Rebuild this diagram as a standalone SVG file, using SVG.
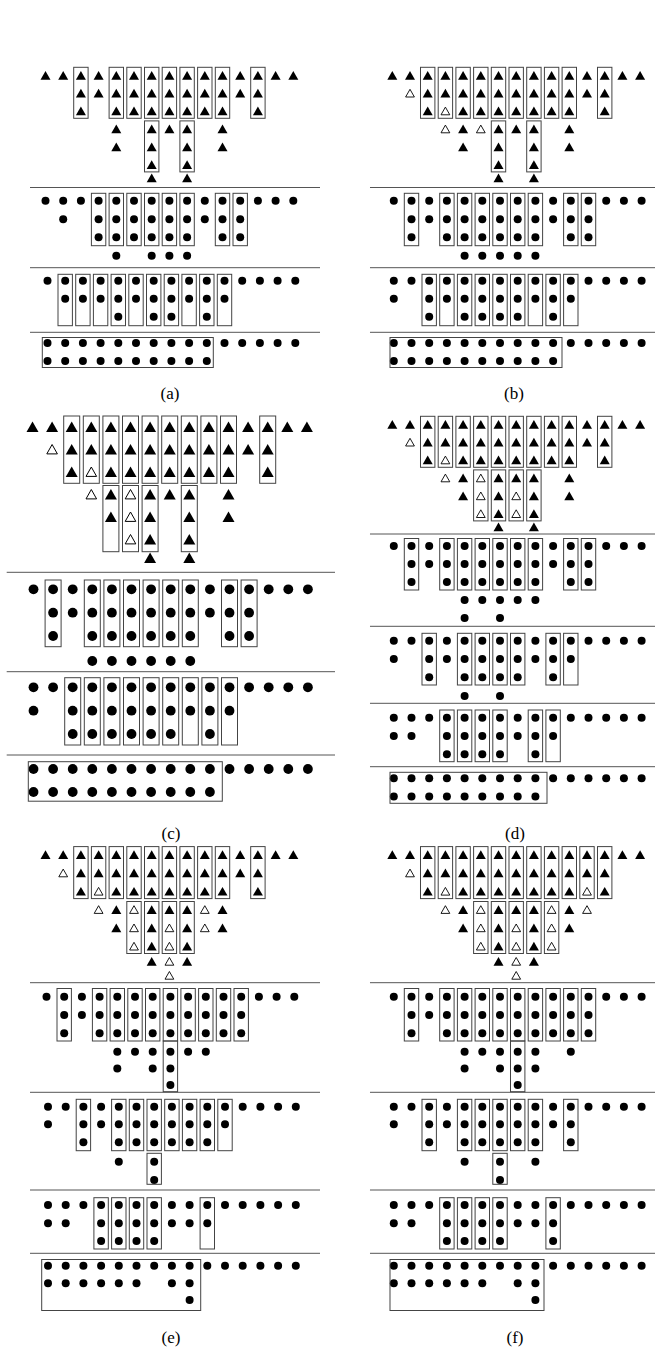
<svg xmlns="http://www.w3.org/2000/svg" width="669" height="1353" viewBox="0 0 669 1353">
<style>
.b{fill:none;stroke:#444;stroke-width:1}
.s{stroke:#555;stroke-width:1}
.cap{font-family:"Liberation Serif",serif;font-size:17px;fill:#000;text-anchor:middle}
</style>
<defs>
<polygon id="T" points="-5,4 5,4 0,-4.7" fill="#000"/>
<polygon id="O" points="-4.4,3.5 4.4,3.5 0,-4.2" fill="#fff" stroke="#000" stroke-width="0.9"/>
<circle id="D" r="4" fill="#000"/>
<polygon id="T2" points="-6,5 6,5 0,-5.6" fill="#000"/>
<polygon id="O2" points="-5.3,4.4 5.3,4.4 0,-5" fill="#fff" stroke="#000" stroke-width="1"/>
<circle id="D2" r="4.9" fill="#000"/>
<g id="R15T"><use href="#T" x="0"/><use href="#T" x="17.7"/><use href="#T" x="35.4"/><use href="#T" x="53.1"/><use href="#T" x="70.8"/><use href="#T" x="88.5"/><use href="#T" x="106.2"/><use href="#T" x="123.9"/><use href="#T" x="141.6"/><use href="#T" x="159.3"/><use href="#T" x="177"/><use href="#T" x="194.7"/><use href="#T" x="212.4"/><use href="#T" x="230.1"/><use href="#T" x="247.8"/></g>
<g id="R15D"><use href="#D" x="0"/><use href="#D" x="17.7"/><use href="#D" x="35.4"/><use href="#D" x="53.1"/><use href="#D" x="70.8"/><use href="#D" x="88.5"/><use href="#D" x="106.2"/><use href="#D" x="123.9"/><use href="#D" x="141.6"/><use href="#D" x="159.3"/><use href="#D" x="177"/><use href="#D" x="194.7"/><use href="#D" x="212.4"/><use href="#D" x="230.1"/><use href="#D" x="247.8"/></g>
<g id="R15T2"><use href="#T2" x="0"/><use href="#T2" x="19.6"/><use href="#T2" x="39.2"/><use href="#T2" x="58.8"/><use href="#T2" x="78.4"/><use href="#T2" x="98"/><use href="#T2" x="117.6"/><use href="#T2" x="137.2"/><use href="#T2" x="156.8"/><use href="#T2" x="176.4"/><use href="#T2" x="196"/><use href="#T2" x="215.6"/><use href="#T2" x="235.2"/><use href="#T2" x="254.8"/><use href="#T2" x="274.4"/></g>
<g id="R15D2"><use href="#D2" x="0"/><use href="#D2" x="19.6"/><use href="#D2" x="39.2"/><use href="#D2" x="58.8"/><use href="#D2" x="78.4"/><use href="#D2" x="98"/><use href="#D2" x="117.6"/><use href="#D2" x="137.2"/><use href="#D2" x="156.8"/><use href="#D2" x="176.4"/><use href="#D2" x="196"/><use href="#D2" x="215.6"/><use href="#D2" x="235.2"/><use href="#D2" x="254.8"/><use href="#D2" x="274.4"/></g>
</defs>
<rect width="669" height="1353" fill="#fff"/>

<!-- Panel (a) -->
<g id="panel-a" transform="translate(45.5,0)">
<use href="#R15T" y="75.7"/>
<g transform="translate(0,93.5)"><use href="#T" x="35.4"/><use href="#T" x="53.1"/><use href="#T" x="70.8"/><use href="#T" x="88.5"/><use href="#T" x="106.2"/><use href="#T" x="123.9"/><use href="#T" x="141.6"/><use href="#T" x="159.3"/><use href="#T" x="177"/><use href="#T" x="194.7"/><use href="#T" x="212.4"/></g>
<g transform="translate(0,111.3)"><use href="#T" x="35.4"/><use href="#T" x="70.8"/><use href="#T" x="88.5"/><use href="#T" x="106.2"/><use href="#T" x="123.9"/><use href="#T" x="141.6"/><use href="#T" x="159.3"/><use href="#T" x="177"/><use href="#T" x="212.4"/></g>
<g transform="translate(0,129.3)"><use href="#T" x="70.8"/><use href="#T" x="106.2"/><use href="#T" x="123.9"/><use href="#T" x="141.6"/><use href="#T" x="177"/></g>
<g transform="translate(0,147.2)"><use href="#T" x="70.8"/><use href="#T" x="106.2"/><use href="#T" x="141.6"/><use href="#T" x="177"/></g>
<g transform="translate(0,165)"><use href="#T" x="106.2"/><use href="#T" x="141.6"/></g>
<g transform="translate(0,178.3)"><use href="#T" x="106.2"/><use href="#T" x="141.6"/></g>
<g transform="translate(0,67.3)"><rect class="b" x="28.2" width="14.4" height="51"/><rect class="b" x="63.6" width="14.4" height="51"/><rect class="b" x="81.3" width="14.4" height="51"/><rect class="b" x="99" width="14.4" height="51"/><rect class="b" x="116.7" width="14.4" height="51"/><rect class="b" x="134.4" width="14.4" height="51"/><rect class="b" x="152.1" width="14.4" height="51"/><rect class="b" x="169.8" width="14.4" height="51"/><rect class="b" x="205.2" width="14.4" height="51"/></g>
<g transform="translate(0,120.9)"><rect class="b" x="99" width="14.4" height="51"/><rect class="b" x="134.4" width="14.4" height="51"/></g>
<line class="s" x1="-15.5" y1="187.5" x2="274.5" y2="187.5"/>
<line class="s" x1="-15.5" y1="267.7" x2="274.5" y2="267.7"/>
<line class="s" x1="-15.5" y1="332.3" x2="274.5" y2="332.3"/>
<use href="#R15D" y="200.7"/>
<g transform="translate(0,219.3)"><use href="#D" x="17.7"/><use href="#D" x="53.1"/><use href="#D" x="70.8"/><use href="#D" x="88.5"/><use href="#D" x="106.2"/><use href="#D" x="123.9"/><use href="#D" x="141.6"/><use href="#D" x="159.3"/><use href="#D" x="177"/><use href="#D" x="194.7"/></g>
<g transform="translate(0,237.3)"><use href="#D" x="53.1"/><use href="#D" x="70.8"/><use href="#D" x="88.5"/><use href="#D" x="106.2"/><use href="#D" x="123.9"/><use href="#D" x="141.6"/><use href="#D" x="177"/><use href="#D" x="194.7"/></g>
<g transform="translate(0,255.7)"><use href="#D" x="70.8"/><use href="#D" x="106.2"/><use href="#D" x="123.9"/><use href="#D" x="141.6"/></g>
<g transform="translate(0,193.3)"><rect class="b" x="45.9" width="14.4" height="52.4"/><rect class="b" x="63.6" width="14.4" height="52.4"/><rect class="b" x="81.3" width="14.4" height="52.4"/><rect class="b" x="99" width="14.4" height="52.4"/><rect class="b" x="116.7" width="14.4" height="52.4"/><rect class="b" x="134.4" width="14.4" height="52.4"/><rect class="b" x="169.8" width="14.4" height="52.4"/><rect class="b" x="187.5" width="14.4" height="52.4"/></g>
<g transform="translate(2,0)">
<use href="#R15D" y="280.7"/>
<g transform="translate(0,298.7)"><use href="#D" x="17.7"/><use href="#D" x="35.4"/><use href="#D" x="53.1"/><use href="#D" x="70.8"/><use href="#D" x="88.5"/><use href="#D" x="106.2"/><use href="#D" x="123.9"/><use href="#D" x="141.6"/><use href="#D" x="159.3"/><use href="#D" x="177"/></g>
<g transform="translate(0,316.7)"><use href="#D" x="70.8"/><use href="#D" x="106.2"/><use href="#D" x="123.9"/><use href="#D" x="159.3"/></g>
<g transform="translate(0,274.3)"><rect class="b" x="10.5" width="14.4" height="51.4"/><rect class="b" x="28.2" width="14.4" height="51.4"/><rect class="b" x="45.9" width="14.4" height="51.4"/><rect class="b" x="63.6" width="14.4" height="51.4"/><rect class="b" x="81.3" width="14.4" height="51.4"/><rect class="b" x="99" width="14.4" height="51.4"/><rect class="b" x="116.7" width="14.4" height="51.4"/><rect class="b" x="134.4" width="14.4" height="51.4"/><rect class="b" x="152.1" width="14.4" height="51.4"/><rect class="b" x="169.8" width="14.4" height="51.4"/></g>
<use href="#R15D" y="343"/>
<g transform="translate(0,361)"><use href="#D" x="0"/><use href="#D" x="17.7"/><use href="#D" x="35.4"/><use href="#D" x="53.1"/><use href="#D" x="70.8"/><use href="#D" x="88.5"/><use href="#D" x="106.2"/><use href="#D" x="123.9"/><use href="#D" x="141.6"/><use href="#D" x="159.3"/></g>
<rect class="b" x="-5.2" y="337.5" width="171" height="30"/>
</g>
</g>
<text class="cap" x="170" y="399">(a)</text>

<!-- Panel (b) -->
<g id="panel-b" transform="translate(392.3,0)">
<use href="#R15T" y="75.7"/>
<g transform="translate(0,93.5)"><use href="#O" x="17.7"/><use href="#T" x="35.4"/><use href="#T" x="53.1"/><use href="#T" x="70.8"/><use href="#T" x="88.5"/><use href="#T" x="106.2"/><use href="#T" x="123.9"/><use href="#T" x="141.6"/><use href="#T" x="159.3"/><use href="#T" x="177"/><use href="#T" x="194.7"/><use href="#T" x="212.4"/></g>
<g transform="translate(0,111.3)"><use href="#T" x="35.4"/><use href="#O" x="53.1"/><use href="#T" x="70.8"/><use href="#T" x="88.5"/><use href="#T" x="106.2"/><use href="#T" x="123.9"/><use href="#T" x="141.6"/><use href="#T" x="159.3"/><use href="#T" x="177"/><use href="#T" x="212.4"/></g>
<g transform="translate(0,129.3)"><use href="#O" x="53.1"/><use href="#T" x="70.8"/><use href="#O" x="88.5"/><use href="#T" x="106.2"/><use href="#T" x="123.9"/><use href="#T" x="141.6"/><use href="#T" x="177"/></g>
<g transform="translate(0,147.2)"><use href="#T" x="70.8"/><use href="#T" x="106.2"/><use href="#T" x="141.6"/><use href="#T" x="177"/></g>
<g transform="translate(0,165)"><use href="#T" x="106.2"/><use href="#T" x="141.6"/></g>
<g transform="translate(0,178.3)"><use href="#T" x="106.2"/><use href="#T" x="141.6"/></g>
<g transform="translate(0,67.3)"><rect class="b" x="28.2" width="14.4" height="51"/><rect class="b" x="45.9" width="14.4" height="51"/><rect class="b" x="63.6" width="14.4" height="51"/><rect class="b" x="81.3" width="14.4" height="51"/><rect class="b" x="99" width="14.4" height="51"/><rect class="b" x="116.7" width="14.4" height="51"/><rect class="b" x="134.4" width="14.4" height="51"/><rect class="b" x="152.1" width="14.4" height="51"/><rect class="b" x="169.8" width="14.4" height="51"/><rect class="b" x="205.2" width="14.4" height="51"/></g>
<g transform="translate(0,120.9)"><rect class="b" x="99" width="14.4" height="51"/><rect class="b" x="134.4" width="14.4" height="51"/></g>
<line class="s" x1="-22.3" y1="187.5" x2="262.7" y2="187.5"/>
<line class="s" x1="-22.3" y1="267.7" x2="262.7" y2="267.7"/>
<line class="s" x1="-22.3" y1="332.3" x2="262.7" y2="332.3"/>
<g transform="translate(1.5,0)">
<use href="#R15D" y="200.7"/>
<g transform="translate(0,219.3)"><use href="#D" x="17.7"/><use href="#D" x="35.4"/><use href="#D" x="53.1"/><use href="#D" x="70.8"/><use href="#D" x="88.5"/><use href="#D" x="106.2"/><use href="#D" x="123.9"/><use href="#D" x="141.6"/><use href="#D" x="159.3"/><use href="#D" x="177"/><use href="#D" x="194.7"/></g>
<g transform="translate(0,237.3)"><use href="#D" x="17.7"/><use href="#D" x="53.1"/><use href="#D" x="70.8"/><use href="#D" x="88.5"/><use href="#D" x="106.2"/><use href="#D" x="123.9"/><use href="#D" x="141.6"/><use href="#D" x="177"/><use href="#D" x="194.7"/></g>
<g transform="translate(0,255.7)"><use href="#D" x="70.8"/><use href="#D" x="88.5"/><use href="#D" x="106.2"/><use href="#D" x="123.9"/><use href="#D" x="141.6"/></g>
<g transform="translate(0,193.3)"><rect class="b" x="10.5" width="14.4" height="52.4"/><rect class="b" x="45.9" width="14.4" height="52.4"/><rect class="b" x="63.6" width="14.4" height="52.4"/><rect class="b" x="81.3" width="14.4" height="52.4"/><rect class="b" x="99" width="14.4" height="52.4"/><rect class="b" x="116.7" width="14.4" height="52.4"/><rect class="b" x="134.4" width="14.4" height="52.4"/><rect class="b" x="169.8" width="14.4" height="52.4"/><rect class="b" x="187.5" width="14.4" height="52.4"/></g>
<use href="#R15D" y="280.7"/>
<g transform="translate(0,298.7)"><use href="#D" x="0"/><use href="#D" x="35.4"/><use href="#D" x="53.1"/><use href="#D" x="70.8"/><use href="#D" x="88.5"/><use href="#D" x="106.2"/><use href="#D" x="123.9"/><use href="#D" x="141.6"/><use href="#D" x="159.3"/><use href="#D" x="177"/></g>
<g transform="translate(0,316.7)"><use href="#D" x="35.4"/><use href="#D" x="70.8"/><use href="#D" x="88.5"/><use href="#D" x="106.2"/><use href="#D" x="123.9"/><use href="#D" x="159.3"/></g>
<g transform="translate(0,274.3)"><rect class="b" x="28.2" width="14.4" height="51.4"/><rect class="b" x="45.9" width="14.4" height="51.4"/><rect class="b" x="63.6" width="14.4" height="51.4"/><rect class="b" x="81.3" width="14.4" height="51.4"/><rect class="b" x="99" width="14.4" height="51.4"/><rect class="b" x="116.7" width="14.4" height="51.4"/><rect class="b" x="134.4" width="14.4" height="51.4"/><rect class="b" x="152.1" width="14.4" height="51.4"/><rect class="b" x="169.8" width="14.4" height="51.4"/></g>
<use href="#R15D" y="343"/>
<g transform="translate(0,361)"><use href="#D" x="0"/><use href="#D" x="17.7"/><use href="#D" x="35.4"/><use href="#D" x="53.1"/><use href="#D" x="70.8"/><use href="#D" x="88.5"/><use href="#D" x="106.2"/><use href="#D" x="123.9"/><use href="#D" x="141.6"/><use href="#D" x="159.3"/></g>
<rect class="b" x="-3.8" y="337.5" width="172" height="30"/>
</g>
</g>
<text class="cap" x="514" y="399">(b)</text>

<!-- Panel (c) -->
<g id="panel-c" transform="translate(32.5,0)">
<use href="#R15T2" y="427"/>
<g transform="translate(0,449.5)"><use href="#O2" x="19.6"/><use href="#T2" x="39.2"/><use href="#T2" x="58.8"/><use href="#T2" x="78.4"/><use href="#T2" x="98"/><use href="#T2" x="117.6"/><use href="#T2" x="137.2"/><use href="#T2" x="156.8"/><use href="#T2" x="176.4"/><use href="#T2" x="196"/><use href="#T2" x="215.6"/><use href="#T2" x="235.2"/></g>
<g transform="translate(0,472)"><use href="#T2" x="39.2"/><use href="#O2" x="58.8"/><use href="#T2" x="78.4"/><use href="#T2" x="98"/><use href="#T2" x="117.6"/><use href="#T2" x="137.2"/><use href="#T2" x="156.8"/><use href="#T2" x="176.4"/><use href="#T2" x="196"/><use href="#T2" x="235.2"/></g>
<g transform="translate(0,494.5)"><use href="#O2" x="58.8"/><use href="#T2" x="78.4"/><use href="#O2" x="98"/><use href="#T2" x="117.6"/><use href="#T2" x="137.2"/><use href="#T2" x="156.8"/><use href="#T2" x="196"/></g>
<g transform="translate(0,517)"><use href="#T2" x="78.4"/><use href="#O2" x="98"/><use href="#T2" x="117.6"/><use href="#T2" x="156.8"/><use href="#T2" x="196"/></g>
<g transform="translate(0,539.5)"><use href="#O2" x="98"/><use href="#T2" x="117.6"/><use href="#T2" x="156.8"/></g>
<g transform="translate(0,558)"><use href="#T2" x="117.6"/><use href="#T2" x="156.8"/></g>
<g transform="translate(0,416)"><rect class="b" x="31.2" width="16" height="67.3"/><rect class="b" x="50.8" width="16" height="67.3"/><rect class="b" x="70.4" width="16" height="67.3"/><rect class="b" x="90" width="16" height="67.3"/><rect class="b" x="109.6" width="16" height="67.3"/><rect class="b" x="129.2" width="16" height="67.3"/><rect class="b" x="148.8" width="16" height="67.3"/><rect class="b" x="168.4" width="16" height="67.3"/><rect class="b" x="188" width="16" height="67.3"/><rect class="b" x="227.2" width="16" height="67.3"/></g>
<g transform="translate(0,485.5)"><rect class="b" x="70.4" width="16" height="66.2"/><rect class="b" x="90" width="16" height="66.2"/><rect class="b" x="109.6" width="16" height="66.2"/><rect class="b" x="148.8" width="16" height="66.2"/></g>
<line class="s" x1="-25.8" y1="572.3" x2="302.5" y2="572.3"/>
<line class="s" x1="-25.8" y1="671.7" x2="302.5" y2="671.7"/>
<line class="s" x1="-25.8" y1="755" x2="302.5" y2="755"/>
<g transform="translate(1,0)">
<use href="#R15D2" y="589.3"/>
<g transform="translate(0,612.7)"><use href="#D2" x="19.6"/><use href="#D2" x="39.2"/><use href="#D2" x="58.8"/><use href="#D2" x="78.4"/><use href="#D2" x="98"/><use href="#D2" x="117.6"/><use href="#D2" x="137.2"/><use href="#D2" x="156.8"/><use href="#D2" x="176.4"/><use href="#D2" x="196"/><use href="#D2" x="215.6"/></g>
<g transform="translate(0,636)"><use href="#D2" x="19.6"/><use href="#D2" x="58.8"/><use href="#D2" x="78.4"/><use href="#D2" x="98"/><use href="#D2" x="117.6"/><use href="#D2" x="137.2"/><use href="#D2" x="156.8"/><use href="#D2" x="196"/><use href="#D2" x="215.6"/></g>
<g transform="translate(0,661)"><use href="#D2" x="58.8"/><use href="#D2" x="78.4"/><use href="#D2" x="98"/><use href="#D2" x="117.6"/><use href="#D2" x="137.2"/><use href="#D2" x="156.8"/></g>
<g transform="translate(0,580)"><rect class="b" x="11.6" width="16" height="66.7"/><rect class="b" x="50.8" width="16" height="66.7"/><rect class="b" x="70.4" width="16" height="66.7"/><rect class="b" x="90" width="16" height="66.7"/><rect class="b" x="109.6" width="16" height="66.7"/><rect class="b" x="129.2" width="16" height="66.7"/><rect class="b" x="148.8" width="16" height="66.7"/><rect class="b" x="188" width="16" height="66.7"/><rect class="b" x="207.6" width="16" height="66.7"/></g>
<use href="#R15D2" y="687.3"/>
<g transform="translate(0,710.7)"><use href="#D2" x="0"/><use href="#D2" x="39.2"/><use href="#D2" x="58.8"/><use href="#D2" x="78.4"/><use href="#D2" x="98"/><use href="#D2" x="117.6"/><use href="#D2" x="137.2"/><use href="#D2" x="156.8"/><use href="#D2" x="176.4"/><use href="#D2" x="196"/></g>
<g transform="translate(0,734)"><use href="#D2" x="39.2"/><use href="#D2" x="58.8"/><use href="#D2" x="78.4"/><use href="#D2" x="98"/><use href="#D2" x="117.6"/><use href="#D2" x="137.2"/><use href="#D2" x="176.4"/></g>
<g transform="translate(0,677.7)"><rect class="b" x="31.2" width="16" height="67.3"/><rect class="b" x="50.8" width="16" height="67.3"/><rect class="b" x="70.4" width="16" height="67.3"/><rect class="b" x="90" width="16" height="67.3"/><rect class="b" x="109.6" width="16" height="67.3"/><rect class="b" x="129.2" width="16" height="67.3"/><rect class="b" x="148.8" width="16" height="67.3"/><rect class="b" x="168.4" width="16" height="67.3"/><rect class="b" x="188" width="16" height="67.3"/></g>
<use href="#R15D2" y="769"/>
<g transform="translate(0,792)"><use href="#D2" x="0"/><use href="#D2" x="19.6"/><use href="#D2" x="39.2"/><use href="#D2" x="58.8"/><use href="#D2" x="78.4"/><use href="#D2" x="98"/><use href="#D2" x="117.6"/><use href="#D2" x="137.2"/><use href="#D2" x="156.8"/><use href="#D2" x="176.4"/></g>
<rect class="b" x="-5.2" y="761.7" width="194" height="39.5"/>
</g>
</g>
<text class="cap" x="171" y="839">(c)</text>

<!-- Panel (d) -->
<g id="panel-d" transform="translate(392.3,0)">
<use href="#R15T" y="424.7"/>
<g transform="translate(0,442.5)"><use href="#O" x="17.7"/><use href="#T" x="35.4"/><use href="#T" x="53.1"/><use href="#T" x="70.8"/><use href="#T" x="88.5"/><use href="#T" x="106.2"/><use href="#T" x="123.9"/><use href="#T" x="141.6"/><use href="#T" x="159.3"/><use href="#T" x="177"/><use href="#T" x="194.7"/><use href="#T" x="212.4"/></g>
<g transform="translate(0,460.3)"><use href="#T" x="35.4"/><use href="#O" x="53.1"/><use href="#T" x="70.8"/><use href="#T" x="88.5"/><use href="#T" x="106.2"/><use href="#T" x="123.9"/><use href="#T" x="141.6"/><use href="#T" x="159.3"/><use href="#T" x="177"/><use href="#T" x="212.4"/></g>
<g transform="translate(0,478.3)"><use href="#O" x="53.1"/><use href="#T" x="70.8"/><use href="#O" x="88.5"/><use href="#T" x="106.2"/><use href="#T" x="123.9"/><use href="#T" x="141.6"/><use href="#T" x="177"/></g>
<g transform="translate(0,496.2)"><use href="#T" x="70.8"/><use href="#O" x="88.5"/><use href="#T" x="106.2"/><use href="#O" x="123.9"/><use href="#T" x="141.6"/><use href="#T" x="177"/></g>
<g transform="translate(0,514)"><use href="#O" x="88.5"/><use href="#T" x="106.2"/><use href="#O" x="123.9"/><use href="#T" x="141.6"/></g>
<g transform="translate(0,527.3)"><use href="#T" x="106.2"/><use href="#T" x="141.6"/></g>
<g transform="translate(0,416.3)"><rect class="b" x="28.2" width="14.4" height="51"/><rect class="b" x="45.9" width="14.4" height="51"/><rect class="b" x="63.6" width="14.4" height="51"/><rect class="b" x="81.3" width="14.4" height="51"/><rect class="b" x="99" width="14.4" height="51"/><rect class="b" x="116.7" width="14.4" height="51"/><rect class="b" x="134.4" width="14.4" height="51"/><rect class="b" x="152.1" width="14.4" height="51"/><rect class="b" x="169.8" width="14.4" height="51"/><rect class="b" x="205.2" width="14.4" height="51"/></g>
<g transform="translate(0,469.9)"><rect class="b" x="81.3" width="14.4" height="51"/><rect class="b" x="99" width="14.4" height="51"/><rect class="b" x="116.7" width="14.4" height="51"/><rect class="b" x="134.4" width="14.4" height="51"/></g>
<line class="s" x1="-22.3" y1="534" x2="262.7" y2="534"/>
<line class="s" x1="-22.3" y1="626.3" x2="262.7" y2="626.3"/>
<line class="s" x1="-22.3" y1="703.3" x2="262.7" y2="703.3"/>
<line class="s" x1="-22.3" y1="766.7" x2="262.7" y2="766.7"/>
<g transform="translate(1.5,0)">
<use href="#R15D" y="546"/>
<g transform="translate(0,564)"><use href="#D" x="17.7"/><use href="#D" x="35.4"/><use href="#D" x="53.1"/><use href="#D" x="70.8"/><use href="#D" x="88.5"/><use href="#D" x="106.2"/><use href="#D" x="123.9"/><use href="#D" x="141.6"/><use href="#D" x="159.3"/><use href="#D" x="177"/><use href="#D" x="194.7"/></g>
<g transform="translate(0,582)"><use href="#D" x="17.7"/><use href="#D" x="53.1"/><use href="#D" x="70.8"/><use href="#D" x="88.5"/><use href="#D" x="106.2"/><use href="#D" x="123.9"/><use href="#D" x="141.6"/><use href="#D" x="177"/><use href="#D" x="194.7"/></g>
<g transform="translate(0,600)"><use href="#D" x="70.8"/><use href="#D" x="88.5"/><use href="#D" x="106.2"/><use href="#D" x="123.9"/><use href="#D" x="141.6"/></g>
<g transform="translate(0,618)"><use href="#D" x="70.8"/><use href="#D" x="106.2"/></g>
<g transform="translate(0,538.5)"><rect class="b" x="10.5" width="14.4" height="51.5"/><rect class="b" x="45.9" width="14.4" height="51.5"/><rect class="b" x="63.6" width="14.4" height="51.5"/><rect class="b" x="81.3" width="14.4" height="51.5"/><rect class="b" x="99" width="14.4" height="51.5"/><rect class="b" x="116.7" width="14.4" height="51.5"/><rect class="b" x="134.4" width="14.4" height="51.5"/><rect class="b" x="169.8" width="14.4" height="51.5"/><rect class="b" x="187.5" width="14.4" height="51.5"/></g>
<use href="#R15D" y="640.7"/>
<g transform="translate(0,659)"><use href="#D" x="0"/><use href="#D" x="35.4"/><use href="#D" x="53.1"/><use href="#D" x="70.8"/><use href="#D" x="88.5"/><use href="#D" x="106.2"/><use href="#D" x="123.9"/><use href="#D" x="141.6"/><use href="#D" x="159.3"/><use href="#D" x="177"/></g>
<g transform="translate(0,677.3)"><use href="#D" x="35.4"/><use href="#D" x="70.8"/><use href="#D" x="88.5"/><use href="#D" x="106.2"/><use href="#D" x="123.9"/><use href="#D" x="159.3"/></g>
<g transform="translate(0,696)"><use href="#D" x="70.8"/><use href="#D" x="106.2"/></g>
<g transform="translate(0,633.3)"><rect class="b" x="28.2" width="14.4" height="51.7"/><rect class="b" x="63.6" width="14.4" height="51.7"/><rect class="b" x="81.3" width="14.4" height="51.7"/><rect class="b" x="99" width="14.4" height="51.7"/><rect class="b" x="116.7" width="14.4" height="51.7"/><rect class="b" x="152.1" width="14.4" height="51.7"/><rect class="b" x="169.8" width="14.4" height="51.7"/></g>
<use href="#R15D" y="717.7"/>
<g transform="translate(0,736)"><use href="#D" x="0"/><use href="#D" x="17.7"/><use href="#D" x="53.1"/><use href="#D" x="70.8"/><use href="#D" x="88.5"/><use href="#D" x="106.2"/><use href="#D" x="123.9"/><use href="#D" x="141.6"/><use href="#D" x="159.3"/></g>
<g transform="translate(0,754.3)"><use href="#D" x="53.1"/><use href="#D" x="70.8"/><use href="#D" x="88.5"/><use href="#D" x="106.2"/><use href="#D" x="141.6"/></g>
<g transform="translate(0,710)"><rect class="b" x="45.9" width="14.4" height="51.7"/><rect class="b" x="63.6" width="14.4" height="51.7"/><rect class="b" x="81.3" width="14.4" height="51.7"/><rect class="b" x="99" width="14.4" height="51.7"/><rect class="b" x="134.4" width="14.4" height="51.7"/><rect class="b" x="152.1" width="14.4" height="51.7"/></g>
<use href="#R15D" y="778.3"/>
<g transform="translate(0,796.5)"><use href="#D" x="0"/><use href="#D" x="17.7"/><use href="#D" x="35.4"/><use href="#D" x="53.1"/><use href="#D" x="70.8"/><use href="#D" x="88.5"/><use href="#D" x="106.2"/><use href="#D" x="123.9"/><use href="#D" x="141.6"/></g>
<rect class="b" x="-3.8" y="772.3" width="157" height="31"/>
</g>
</g>
<text class="cap" x="515" y="839">(d)</text>

<!-- Panel (e) -->
<g id="panel-e" transform="translate(45.5,0)">
<use href="#R15T" y="855"/>
<g transform="translate(0,873.3)"><use href="#O" x="17.7"/><use href="#T" x="35.4"/><use href="#T" x="53.1"/><use href="#T" x="70.8"/><use href="#T" x="88.5"/><use href="#T" x="106.2"/><use href="#T" x="123.9"/><use href="#T" x="141.6"/><use href="#T" x="159.3"/><use href="#T" x="177"/><use href="#T" x="194.7"/><use href="#T" x="212.4"/></g>
<g transform="translate(0,891.6)"><use href="#T" x="35.4"/><use href="#O" x="53.1"/><use href="#T" x="70.8"/><use href="#T" x="88.5"/><use href="#T" x="106.2"/><use href="#T" x="123.9"/><use href="#T" x="141.6"/><use href="#T" x="159.3"/><use href="#T" x="177"/><use href="#T" x="212.4"/></g>
<g transform="translate(0,909.9)"><use href="#O" x="53.1"/><use href="#T" x="70.8"/><use href="#O" x="88.5"/><use href="#T" x="106.2"/><use href="#T" x="123.9"/><use href="#T" x="141.6"/><use href="#O" x="159.3"/><use href="#T" x="177"/></g>
<g transform="translate(0,928.2)"><use href="#T" x="70.8"/><use href="#O" x="88.5"/><use href="#T" x="106.2"/><use href="#O" x="123.9"/><use href="#T" x="141.6"/><use href="#O" x="159.3"/><use href="#T" x="177"/></g>
<g transform="translate(0,946.5)"><use href="#O" x="88.5"/><use href="#T" x="106.2"/><use href="#O" x="123.9"/><use href="#T" x="141.6"/></g>
<g transform="translate(0,961.7)"><use href="#T" x="106.2"/><use href="#O" x="123.9"/><use href="#T" x="141.6"/></g>
<g transform="translate(0,975.7)"><use href="#O" x="123.9"/></g>
<g transform="translate(0,846.6)"><rect class="b" x="28.2" width="14.4" height="52"/><rect class="b" x="45.9" width="14.4" height="52"/><rect class="b" x="63.6" width="14.4" height="52"/><rect class="b" x="81.3" width="14.4" height="52"/><rect class="b" x="99" width="14.4" height="52"/><rect class="b" x="116.7" width="14.4" height="52"/><rect class="b" x="134.4" width="14.4" height="52"/><rect class="b" x="152.1" width="14.4" height="52"/><rect class="b" x="169.8" width="14.4" height="52"/><rect class="b" x="205.2" width="14.4" height="52"/></g>
<g transform="translate(0,901.5)"><rect class="b" x="81.3" width="14.4" height="52"/><rect class="b" x="99" width="14.4" height="52"/><rect class="b" x="116.7" width="14.4" height="52"/><rect class="b" x="134.4" width="14.4" height="52"/></g>
<line class="s" x1="-15.5" y1="982.7" x2="274.5" y2="982.7"/>
<line class="s" x1="-15.5" y1="1092.3" x2="274.5" y2="1092.3"/>
<line class="s" x1="-15.5" y1="1190" x2="274.5" y2="1190"/>
<line class="s" x1="-15.5" y1="1253.3" x2="274.5" y2="1253.3"/>
<g transform="translate(1,0)">
<use href="#R15D" y="996.7"/>
<g transform="translate(0,1015)"><use href="#D" x="17.7"/><use href="#D" x="35.4"/><use href="#D" x="53.1"/><use href="#D" x="70.8"/><use href="#D" x="88.5"/><use href="#D" x="106.2"/><use href="#D" x="123.9"/><use href="#D" x="141.6"/><use href="#D" x="159.3"/><use href="#D" x="177"/><use href="#D" x="194.7"/></g>
<g transform="translate(0,1033.3)"><use href="#D" x="17.7"/><use href="#D" x="53.1"/><use href="#D" x="70.8"/><use href="#D" x="88.5"/><use href="#D" x="106.2"/><use href="#D" x="123.9"/><use href="#D" x="141.6"/><use href="#D" x="159.3"/><use href="#D" x="177"/><use href="#D" x="194.7"/></g>
<g transform="translate(0,1051.7)"><use href="#D" x="70.8"/><use href="#D" x="88.5"/><use href="#D" x="106.2"/><use href="#D" x="123.9"/><use href="#D" x="141.6"/><use href="#D" x="159.3"/></g>
<g transform="translate(0,1068.5)"><use href="#D" x="70.8"/><use href="#D" x="106.2"/><use href="#D" x="123.9"/></g>
<g transform="translate(0,1085)"><use href="#D" x="123.9"/></g>
<g transform="translate(0,988.5)"><rect class="b" x="10.5" width="14.4" height="52.5"/><rect class="b" x="45.9" width="14.4" height="52.5"/><rect class="b" x="63.6" width="14.4" height="52.5"/><rect class="b" x="81.3" width="14.4" height="52.5"/><rect class="b" x="99" width="14.4" height="52.5"/><rect class="b" x="116.7" width="14.4" height="52.5"/><rect class="b" x="134.4" width="14.4" height="52.5"/><rect class="b" x="152.1" width="14.4" height="52.5"/><rect class="b" x="169.8" width="14.4" height="52.5"/><rect class="b" x="187.5" width="14.4" height="52.5"/></g>
<rect class="b" x="116.7" y="1041" width="14.4" height="50.7"/>
</g>
<g transform="translate(2.5,0)">
<use href="#R15D" y="1106.7"/>
<g transform="translate(0,1124.3)"><use href="#D" x="0"/><use href="#D" x="35.4"/><use href="#D" x="53.1"/><use href="#D" x="70.8"/><use href="#D" x="88.5"/><use href="#D" x="106.2"/><use href="#D" x="123.9"/><use href="#D" x="141.6"/><use href="#D" x="159.3"/><use href="#D" x="177"/></g>
<g transform="translate(0,1142.3)"><use href="#D" x="35.4"/><use href="#D" x="70.8"/><use href="#D" x="88.5"/><use href="#D" x="106.2"/><use href="#D" x="123.9"/><use href="#D" x="141.6"/><use href="#D" x="159.3"/></g>
<g transform="translate(0,1161.7)"><use href="#D" x="70.8"/><use href="#D" x="106.2"/></g>
<g transform="translate(0,1180)"><use href="#D" x="106.2"/></g>
<g transform="translate(0,1099.3)"><rect class="b" x="28.2" width="14.4" height="51.4"/><rect class="b" x="63.6" width="14.4" height="51.4"/><rect class="b" x="81.3" width="14.4" height="51.4"/><rect class="b" x="99" width="14.4" height="51.4"/><rect class="b" x="116.7" width="14.4" height="51.4"/><rect class="b" x="134.4" width="14.4" height="51.4"/><rect class="b" x="152.1" width="14.4" height="51.4"/><rect class="b" x="169.8" width="14.4" height="51.4"/></g>
<rect class="b" x="99" y="1153.3" width="14.4" height="31"/>
<use href="#R15D" y="1205"/>
<g transform="translate(0,1223.3)"><use href="#D" x="0"/><use href="#D" x="17.7"/><use href="#D" x="53.1"/><use href="#D" x="70.8"/><use href="#D" x="88.5"/><use href="#D" x="106.2"/><use href="#D" x="123.9"/><use href="#D" x="141.6"/><use href="#D" x="159.3"/></g>
<g transform="translate(0,1241)"><use href="#D" x="53.1"/><use href="#D" x="70.8"/><use href="#D" x="88.5"/><use href="#D" x="106.2"/></g>
<g transform="translate(0,1197.7)"><rect class="b" x="45.9" width="14.4" height="51.3"/><rect class="b" x="63.6" width="14.4" height="51.3"/><rect class="b" x="81.3" width="14.4" height="51.3"/><rect class="b" x="99" width="14.4" height="51.3"/><rect class="b" x="152.1" width="14.4" height="51.3"/></g>
<use href="#R15D" y="1265.7"/>
<g transform="translate(0,1283.3)"><use href="#D" x="0"/><use href="#D" x="17.7"/><use href="#D" x="35.4"/><use href="#D" x="53.1"/><use href="#D" x="70.8"/><use href="#D" x="88.5"/><use href="#D" x="123.9"/><use href="#D" x="141.6"/></g>
<use href="#D" x="141.6" y="1300"/>
<rect class="b" x="-6.3" y="1259.5" width="159" height="51"/>
</g>
</g>
<text class="cap" x="171" y="1343">(e)</text>

<!-- Panel (f) -->
<g id="panel-f" transform="translate(392.3,0)">
<use href="#R15T" y="855"/>
<g transform="translate(0,873.3)"><use href="#O" x="17.7"/><use href="#T" x="35.4"/><use href="#T" x="53.1"/><use href="#T" x="70.8"/><use href="#T" x="88.5"/><use href="#T" x="106.2"/><use href="#T" x="123.9"/><use href="#T" x="141.6"/><use href="#T" x="159.3"/><use href="#T" x="177"/><use href="#T" x="194.7"/><use href="#T" x="212.4"/></g>
<g transform="translate(0,891.6)"><use href="#T" x="35.4"/><use href="#O" x="53.1"/><use href="#T" x="70.8"/><use href="#T" x="88.5"/><use href="#T" x="106.2"/><use href="#T" x="123.9"/><use href="#T" x="141.6"/><use href="#T" x="159.3"/><use href="#T" x="177"/><use href="#O" x="194.7"/><use href="#T" x="212.4"/></g>
<g transform="translate(0,909.9)"><use href="#O" x="53.1"/><use href="#T" x="70.8"/><use href="#O" x="88.5"/><use href="#T" x="106.2"/><use href="#T" x="123.9"/><use href="#T" x="141.6"/><use href="#O" x="159.3"/><use href="#T" x="177"/><use href="#O" x="194.7"/></g>
<g transform="translate(0,928.2)"><use href="#T" x="70.8"/><use href="#O" x="88.5"/><use href="#T" x="106.2"/><use href="#O" x="123.9"/><use href="#T" x="141.6"/><use href="#O" x="159.3"/><use href="#T" x="177"/></g>
<g transform="translate(0,946.5)"><use href="#O" x="88.5"/><use href="#T" x="106.2"/><use href="#O" x="123.9"/><use href="#T" x="141.6"/><use href="#O" x="159.3"/></g>
<g transform="translate(0,961.7)"><use href="#T" x="106.2"/><use href="#O" x="123.9"/><use href="#T" x="141.6"/></g>
<g transform="translate(0,975.7)"><use href="#O" x="123.9"/></g>
<g transform="translate(0,846.6)"><rect class="b" x="28.2" width="14.4" height="52"/><rect class="b" x="45.9" width="14.4" height="52"/><rect class="b" x="63.6" width="14.4" height="52"/><rect class="b" x="81.3" width="14.4" height="52"/><rect class="b" x="99" width="14.4" height="52"/><rect class="b" x="116.7" width="14.4" height="52"/><rect class="b" x="134.4" width="14.4" height="52"/><rect class="b" x="152.1" width="14.4" height="52"/><rect class="b" x="169.8" width="14.4" height="52"/><rect class="b" x="187.5" width="14.4" height="52"/><rect class="b" x="205.2" width="14.4" height="52"/></g>
<g transform="translate(0,901.5)"><rect class="b" x="81.3" width="14.4" height="52"/><rect class="b" x="99" width="14.4" height="52"/><rect class="b" x="116.7" width="14.4" height="52"/><rect class="b" x="134.4" width="14.4" height="52"/><rect class="b" x="152.1" width="14.4" height="52"/></g>
<line class="s" x1="-22.3" y1="982.7" x2="262.7" y2="982.7"/>
<line class="s" x1="-22.3" y1="1092.3" x2="262.7" y2="1092.3"/>
<line class="s" x1="-22.3" y1="1190" x2="262.7" y2="1190"/>
<line class="s" x1="-22.3" y1="1253.3" x2="262.7" y2="1253.3"/>
<g transform="translate(1.5,0)">
<use href="#R15D" y="996.7"/>
<g transform="translate(0,1015)"><use href="#D" x="17.7"/><use href="#D" x="35.4"/><use href="#D" x="53.1"/><use href="#D" x="70.8"/><use href="#D" x="88.5"/><use href="#D" x="106.2"/><use href="#D" x="123.9"/><use href="#D" x="141.6"/><use href="#D" x="159.3"/><use href="#D" x="177"/><use href="#D" x="194.7"/></g>
<g transform="translate(0,1033.3)"><use href="#D" x="17.7"/><use href="#D" x="53.1"/><use href="#D" x="70.8"/><use href="#D" x="88.5"/><use href="#D" x="106.2"/><use href="#D" x="123.9"/><use href="#D" x="141.6"/><use href="#D" x="159.3"/><use href="#D" x="177"/><use href="#D" x="194.7"/></g>
<g transform="translate(0,1051.7)"><use href="#D" x="70.8"/><use href="#D" x="88.5"/><use href="#D" x="106.2"/><use href="#D" x="123.9"/><use href="#D" x="141.6"/><use href="#D" x="177"/></g>
<g transform="translate(0,1068.5)"><use href="#D" x="70.8"/><use href="#D" x="106.2"/><use href="#D" x="123.9"/><use href="#D" x="141.6"/></g>
<g transform="translate(0,1085)"><use href="#D" x="123.9"/></g>
<g transform="translate(0,988.5)"><rect class="b" x="10.5" width="14.4" height="52.5"/><rect class="b" x="45.9" width="14.4" height="52.5"/><rect class="b" x="63.6" width="14.4" height="52.5"/><rect class="b" x="81.3" width="14.4" height="52.5"/><rect class="b" x="99" width="14.4" height="52.5"/><rect class="b" x="116.7" width="14.4" height="52.5"/><rect class="b" x="134.4" width="14.4" height="52.5"/><rect class="b" x="152.1" width="14.4" height="52.5"/><rect class="b" x="169.8" width="14.4" height="52.5"/><rect class="b" x="187.5" width="14.4" height="52.5"/></g>
<rect class="b" x="116.7" y="1041" width="14.4" height="50.7"/>
<use href="#R15D" y="1106.7"/>
<g transform="translate(0,1124.3)"><use href="#D" x="0"/><use href="#D" x="35.4"/><use href="#D" x="53.1"/><use href="#D" x="70.8"/><use href="#D" x="88.5"/><use href="#D" x="106.2"/><use href="#D" x="123.9"/><use href="#D" x="141.6"/><use href="#D" x="159.3"/><use href="#D" x="177"/></g>
<g transform="translate(0,1142.3)"><use href="#D" x="35.4"/><use href="#D" x="70.8"/><use href="#D" x="88.5"/><use href="#D" x="106.2"/><use href="#D" x="123.9"/><use href="#D" x="141.6"/><use href="#D" x="177"/></g>
<g transform="translate(0,1161.7)"><use href="#D" x="70.8"/><use href="#D" x="106.2"/><use href="#D" x="141.6"/></g>
<g transform="translate(0,1180)"><use href="#D" x="106.2"/></g>
<g transform="translate(0,1099.3)"><rect class="b" x="28.2" width="14.4" height="51.4"/><rect class="b" x="63.6" width="14.4" height="51.4"/><rect class="b" x="81.3" width="14.4" height="51.4"/><rect class="b" x="99" width="14.4" height="51.4"/><rect class="b" x="116.7" width="14.4" height="51.4"/><rect class="b" x="134.4" width="14.4" height="51.4"/><rect class="b" x="169.8" width="14.4" height="51.4"/></g>
<rect class="b" x="99" y="1153.3" width="14.4" height="31"/>
<use href="#R15D" y="1205"/>
<g transform="translate(0,1223.3)"><use href="#D" x="0"/><use href="#D" x="17.7"/><use href="#D" x="53.1"/><use href="#D" x="70.8"/><use href="#D" x="88.5"/><use href="#D" x="106.2"/><use href="#D" x="123.9"/><use href="#D" x="141.6"/><use href="#D" x="159.3"/></g>
<g transform="translate(0,1241)"><use href="#D" x="53.1"/><use href="#D" x="70.8"/><use href="#D" x="88.5"/><use href="#D" x="106.2"/><use href="#D" x="159.3"/></g>
<g transform="translate(0,1197.7)"><rect class="b" x="45.9" width="14.4" height="51.3"/><rect class="b" x="63.6" width="14.4" height="51.3"/><rect class="b" x="81.3" width="14.4" height="51.3"/><rect class="b" x="99" width="14.4" height="51.3"/><rect class="b" x="152.1" width="14.4" height="51.3"/></g>
<use href="#R15D" y="1265.7"/>
<g transform="translate(0,1283.3)"><use href="#D" x="0"/><use href="#D" x="17.7"/><use href="#D" x="35.4"/><use href="#D" x="53.1"/><use href="#D" x="70.8"/><use href="#D" x="88.5"/><use href="#D" x="123.9"/><use href="#D" x="141.6"/></g>
<use href="#D" x="141.6" y="1300"/>
<rect class="b" x="-3.8" y="1259.5" width="154" height="51"/>
</g>
</g>
<text class="cap" x="515" y="1343">(f)</text>
</svg>
